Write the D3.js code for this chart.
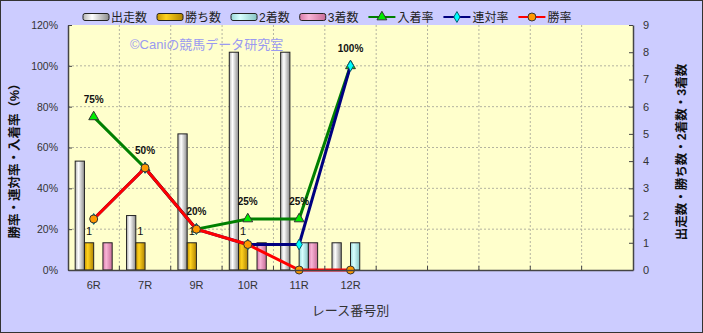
<!DOCTYPE html>
<html>
<head>
<meta charset="utf-8">
<script src="https://cdn.jsdelivr.net/npm/d3@7"></script>
<style>
body { margin: 0; background: #fff; }
svg text { font-family: "Liberation Sans", "Noto Sans CJK JP", sans-serif; }
</style>
</head>
<body>
<script>
// race data
const races = ["6R", "7R", "9R", "10R", "11R", "12R"];
const slots = 11; // x axis keeps room for 11 races, only 6 used
const runners = [4, 2, 5, 8, 8, 1];
const wins = [1, 1, 1, 1, 0, 0];
const seconds = [0, 0, 0, 0, 1, 1];
const thirds = [1, 0, 0, 1, 1, 0];
const placeRate = [75, 50, 20, 25, 25, 100];
const quinellaRate = [25, 50, 20, 12.5, 12.5, 100];
const winRate = [25, 50, 20, 12.5, 0, 0];
const leftTicks = [0, 20, 40, 60, 80, 100, 120];
const rightTicks = [0, 1, 2, 3, 4, 5, 6, 7, 8, 9];

const barSeries = [
  {name: "出走数", values: runners, grad: ["#b4b4b4", "#ffffff", "#8c8c8c"]},
  {name: "勝ち数", values: wins, grad: ["#c89600", "#ffd21e", "#b08400"]},
  {name: "2着数", values: seconds, grad: ["#9ad8d8", "#d8ffff", "#86c4c4"]},
  {name: "3着数", values: thirds, grad: ["#d87aa8", "#f8b4d6", "#c86c98"]}
];
const lineSeries = [
  {name: "入着率", values: placeRate, color: "#008000", fill: "#00ee00", mark: "tri"},
  {name: "連対率", values: quinellaRate, color: "#000080", fill: "#00ffff", mark: "dia"},
  {name: "勝率", values: winRate, color: "#ff0000", fill: "#ff9900", mark: "circ"}
];

const W = 703, H = 333;
const px0 = 68, px1 = 633, py0 = 25, py1 = 270;

const svg = d3.select("body").append("svg")
  .attr("width", W)
  .attr("height", H);

const defs = svg.append("defs");
barSeries.forEach((s, k) => {
  const g = defs.append("linearGradient").attr("id", "g" + k)
    .attr("x1", "0%").attr("x2", "100%").attr("y1", "0%").attr("y2", "0%");
  g.append("stop").attr("offset", "0%").attr("stop-color", s.grad[0]);
  g.append("stop").attr("offset", "35%").attr("stop-color", s.grad[1]);
  g.append("stop").attr("offset", "100%").attr("stop-color", s.grad[2]);
});

svg.append("rect")
  .attr("x", 0.5).attr("y", 0.5)
  .attr("width", W - 1).attr("height", H - 1)
  .attr("fill", "#ccccff")
  .attr("stroke", "#333");

svg.append("rect")
  .attr("x", px0).attr("y", py0)
  .attr("width", px1 - px0).attr("height", py1 - py0)
  .attr("fill", "#ffffcc");

// scales
const x = d3.scaleBand().domain(d3.range(slots)).range([px0, px1]);
const xs = d3.scaleBand().domain(d3.range(barSeries.length))
  .range([x.bandwidth() * 0.14, x.bandwidth() * 0.86]);
const yL = d3.scaleLinear().domain([0, 120]).range([py1, py0]);
const yR = d3.scaleLinear().domain([0, 9]).range([py1, py0]);

// grid
svg.append("g").selectAll("line")
  .data(leftTicks.filter(d => d > 0 && d < 120))
  .enter().append("line")
  .attr("x1", px0).attr("x2", px1)
  .attr("y1", d => yL(d)).attr("y2", d => yL(d))
  .attr("stroke", "#b4b4a0").attr("stroke-dasharray", "2,2");
svg.append("g").selectAll("line")
  .data(d3.range(1, slots))
  .enter().append("line")
  .attr("x1", d => x(d)).attr("x2", d => x(d))
  .attr("y1", py0).attr("y2", py1)
  .attr("stroke", "#b4b4a0").attr("stroke-dasharray", "2,2");

// watermark
svg.append("text")
  .attr("x", 130).attr("y", 49)
  .attr("font-size", 13)
  .attr("fill", "#9a9af0")
  .text("©Caniの競馬データ研究室");

// bars
barSeries.forEach((s, k) => {
  svg.append("g").selectAll("rect")
    .data(s.values.map((v, i) => ({v, i})).filter(d => d.v > 0))
    .enter().append("rect")
    .attr("x", d => x(d.i) + xs(k))
    .attr("y", d => yR(d.v))
    .attr("width", xs.bandwidth())
    .attr("height", d => py1 - yR(d.v))
    .attr("fill", "url(#g" + k + ")")
    .attr("stroke", "#222")
    .attr("stroke-width", 1);
});

// win count labels
svg.append("g").selectAll("text")
  .data(wins.map((v, i) => ({v, i})).filter(d => d.v > 0))
  .enter().append("text")
  .attr("x", d => x(d.i) + xs(1) + xs.bandwidth() / 2)
  .attr("y", d => yR(d.v) - 8)
  .attr("text-anchor", "middle")
  .attr("font-size", 11)
  .attr("fill", "#111")
  .text(d => d.v);

// lines
const cx = i => x(i) + x.bandwidth() / 2;
function marker(sel, s) {
  if (s.mark === "circ") {
    sel.append("circle").attr("r", 4);
  } else {
    sel.append("path")
      .attr("d", d3.symbol(s.mark === "tri" ? d3.symbolTriangle : d3.symbolDiamond, s.mark === "tri" ? 42 : 34));
  }
  sel.selectAll("circle,path")
    .attr("fill", s.fill)
    .attr("stroke", s.mark === "dia" ? "#006070" : "#333")
    .attr("stroke-width", 1);
}
lineSeries.forEach(s => {
  svg.append("path")
    .datum(s.values)
    .attr("fill", "none")
    .attr("stroke", s.color)
    .attr("stroke-width", 3)
    .attr("d", d3.line().x((d, i) => cx(i)).y(d => yL(d)));
  svg.append("g").selectAll("g")
    .data(s.values)
    .enter().append("g")
    .attr("transform", (d, i) => `translate(${cx(i)},${yL(d)})`)
    .each(function() { marker(d3.select(this), s); });
});

// place rate labels
svg.append("g").selectAll("text")
  .data(placeRate)
  .enter().append("text")
  .attr("x", (d, i) => cx(i))
  .attr("y", d => yL(d) - 14)
  .attr("text-anchor", "middle")
  .attr("font-size", 10)
  .attr("font-weight", "bold")
  .attr("fill", "#111")
  .text(d => d + "%");

// axes
const axL = svg.append("g")
  .attr("transform", `translate(${px0},0)`)
  .call(d3.axisLeft(yL).tickValues(leftTicks).tickFormat(d => d + "%")
    .tickSizeInner(-4).tickSizeOuter(0).tickPadding(10));
const axR = svg.append("g")
  .attr("transform", `translate(${px1},0)`)
  .call(d3.axisRight(yR).tickValues(rightTicks).tickFormat(d3.format("d"))
    .tickSizeInner(-4).tickSizeOuter(0).tickPadding(10));
const axB = svg.append("g")
  .attr("transform", `translate(0,${py1})`)
  .call(d3.axisBottom(x).tickFormat(i => races[i] || "")
    .tickSize(0).tickPadding(11));
axB.selectAll(".tick line").remove();
svg.append("g").selectAll("line")
  .data(d3.range(1, slots))
  .enter().append("line")
  .attr("x1", d => x(d)).attr("x2", d => x(d))
  .attr("y1", py1).attr("y2", py1 - 4)
  .attr("stroke", "#444");

[axL, axR, axB].forEach(a => {
  a.select(".domain").attr("stroke", "#444").attr("stroke-width", 1.5);
  a.selectAll(".tick line").attr("stroke", "#444");
  a.selectAll("text").attr("font-size", 11).attr("fill", "#333")
    .attr("font-family", "Liberation Sans, sans-serif");
});
axL.selectAll("text").attr("font-size", 10.5);

// axis titles
svg.append("text")
  .attr("transform", "translate(19,158) rotate(-90)")
  .attr("text-anchor", "middle")
  .attr("font-size", 12.5)
  .attr("font-weight", "bold")
  .attr("fill", "#111")
  .text("勝率・連対率・入着率（%）");
svg.append("text")
  .attr("transform", "translate(686,152) rotate(-90)")
  .attr("text-anchor", "middle")
  .attr("font-size", 12.5)
  .attr("font-weight", "bold")
  .attr("fill", "#111")
  .text("出走数・勝ち数・2着数・3着数");
svg.append("text")
  .attr("x", (px0 + px1) / 2).attr("y", 315)
  .attr("text-anchor", "middle")
  .attr("font-size", 13)
  .attr("fill", "#333")
  .text("レース番号別");

// legend
const leg = svg.append("g").attr("transform", "translate(83,17)");
let lx = 0;
barSeries.concat(lineSeries).forEach((s, k) => {
  const it = leg.append("g").attr("transform", `translate(${lx},0)`);
  let w;
  if (k < barSeries.length) {
    it.append("rect")
      .attr("x", 0).attr("y", -3.5).attr("width", 26).attr("height", 7)
      .attr("rx", 2)
      .attr("fill", "url(#g" + k + ")")
      .attr("stroke", "#222");
    w = 28;
  } else {
    it.append("line")
      .attr("x1", 0).attr("x2", 27).attr("y1", 0).attr("y2", 0)
      .attr("stroke", s.color).attr("stroke-width", 2);
    const m = it.append("g").attr("transform", "translate(13.5,0)");
    marker(m, s);
    w = 29;
  }
  const t = it.append("text")
    .attr("x", w).attr("y", 4.5)
    .attr("font-size", 12)
    .attr("fill", "#222")
    .text(s.name);
  lx += w + t.node().getComputedTextLength() + 10;
});
</script>
</body>
</html>
